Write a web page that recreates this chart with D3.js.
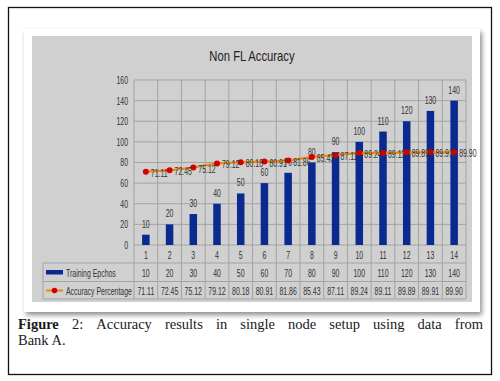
<!DOCTYPE html>
<html>
<head>
<meta charset="utf-8">
<script src="https://cdn.jsdelivr.net/npm/d3@7"></script>
<style>
  body { margin: 0; background: #fff; }
  svg { display: block; }
</style>
</head>
<body>
<script>
// chart data
var categories = ["1","2","3","4","5","6","7","8","9","10","11","12","13","14"];
var epochs = [10, 20, 30, 40, 50, 60, 70, 80, 90, 100, 110, 120, 130, 140];
var accuracy = [71.11, 72.45, 75.12, 79.12, 80.18, 80.91, 81.86, 85.43, 87.11, 89.24, 89.11, 89.89, 89.91, 89.90];
var yTicks = [0, 20, 40, 60, 80, 100, 120, 140, 160];
var seriesNames = ["Training Epchos", "Accuracy Percentage"];

var narrow = "'Liberation Sans Narrow', 'Arial Narrow', 'Liberation Sans', Arial, sans-serif";

// squeeze text horizontally, the chart uses a narrow face
function condense(sel, k) {
  sel.each(function() {
    var w = this.getComputedTextLength();
    d3.select(this).attr("textLength", w * k).attr("lengthAdjust", "spacingAndGlyphs");
  });
}

var svg = d3.select("body").append("svg")
    .attr("width", 500)
    .attr("height", 381);

var defs = svg.append("defs");
var f = defs.append("filter").attr("id", "shadow")
    .attr("x", "-5%").attr("y", "-5%").attr("width", "112%").attr("height", "115%");
f.append("feGaussianBlur").attr("in", "SourceAlpha").attr("stdDeviation", 2.5);
f.append("feOffset").attr("dx", 2).attr("dy", 3).attr("result", "b");
f.append("feComponentTransfer").append("feFuncA").attr("type", "linear").attr("slope", 0.45);
var m = f.append("feMerge");
m.append("feMergeNode");
m.append("feMergeNode").attr("in", "SourceGraphic");

// outer frame
svg.append("rect")
    .attr("x", 8.5).attr("y", 7.5).attr("width", 483).attr("height", 367)
    .attr("fill", "#fff").attr("stroke", "#111").attr("stroke-width", 1.3);

// white card + grey chart area
svg.append("rect")
    .attr("x", 24).attr("y", 29).attr("width", 456).attr("height", 283)
    .attr("fill", "#fff").attr("filter", "url(#shadow)");
svg.append("rect")
    .attr("x", 32).attr("y", 36).attr("width", 440).attr("height", 266)
    .attr("fill", "#d0d0d0");

var title = svg.append("text")
    .attr("x", 252).attr("y", 61)
    .attr("text-anchor", "middle")
    .attr("font-family", narrow)
    .attr("font-size", 15)
    .attr("fill", "#222")
    .text("Non FL Accuracy");
condense(title, 0.75);

var plotL = 134, plotR = 466, plotT = 80, plotB = 245;

var x = d3.scaleBand().domain(categories).range([plotL, plotR]);
var y = d3.scaleLinear().domain([0, 160]).range([plotB, plotT]);

var grid = "#a3a3a3";
var g = svg.append("g");

// horizontal grid
g.selectAll(".hg").data(yTicks).enter().append("line")
    .attr("x1", plotL).attr("x2", plotR)
    .attr("y1", function(d) { return y(d); })
    .attr("y2", function(d) { return y(d); })
    .attr("stroke", grid).attr("stroke-width", 1);

// table geometry
var rowTop = [245, 263, 281.5, 299];
var legLeft = 43;

// vertical grid through plot and table
var xs = categories.map(function(c) { return x(c); }).concat([plotR]);
g.selectAll(".vg").data(xs).enter().append("line")
    .attr("x1", function(d) { return d; }).attr("x2", function(d) { return d; })
    .attr("y1", plotT).attr("y2", rowTop[3])
    .attr("stroke", grid);

// table row lines
g.selectAll(".tr").data([rowTop[1], rowTop[2], rowTop[3]]).enter().append("line")
    .attr("x1", legLeft).attr("x2", plotR)
    .attr("y1", function(d) { return d; }).attr("y2", function(d) { return d; })
    .attr("stroke", grid);
g.append("line")
    .attr("x1", legLeft).attr("x2", legLeft)
    .attr("y1", rowTop[1]).attr("y2", rowTop[3])
    .attr("stroke", grid);

var fs = 10.5, kk = 0.66;

// y axis labels
var yAxis = d3.axisLeft(y).tickValues(yTicks).tickSize(0).tickPadding(6);
var ya = svg.append("g").attr("transform", "translate(" + plotL + ",0)").call(yAxis);
ya.select(".domain").remove();
ya.selectAll("text").attr("font-family", narrow).attr("font-size", fs).attr("fill", "#333");
condense(ya.selectAll("text"), kk);

// bars
var bw = 7.5;
svg.selectAll(".bar").data(epochs).enter().append("rect")
    .attr("x", function(d, i) { return x(categories[i]) + x.bandwidth() / 2 - bw / 2; })
    .attr("y", function(d) { return y(d); })
    .attr("width", bw)
    .attr("height", function(d) { return plotB - y(d); })
    .attr("fill", "#0b2a8f");

var blab = svg.selectAll(".blab").data(epochs).enter().append("text")
    .attr("x", function(d, i) { return x(categories[i]) + x.bandwidth() / 2; })
    .attr("y", function(d) { return y(d) - 7; })
    .attr("text-anchor", "middle")
    .attr("font-family", narrow).attr("font-size", fs).attr("fill", "#333")
    .text(function(d) { return d; });
condense(blab, kk);

// accuracy line
var line = d3.line()
    .x(function(d, i) { return x(categories[i]) + x.bandwidth() / 2; })
    .y(function(d) { return y(d); });
svg.append("path").datum(accuracy)
    .attr("d", line)
    .attr("fill", "none").attr("stroke", "#e8881c").attr("stroke-width", 2.2);

svg.selectAll(".pt").data(accuracy).enter().append("circle")
    .attr("cx", function(d, i) { return x(categories[i]) + x.bandwidth() / 2; })
    .attr("cy", function(d) { return y(d); })
    .attr("r", 3)
    .attr("fill", "#d40000");

var alab = svg.selectAll(".alab").data(accuracy).enter().append("text")
    .attr("x", function(d, i) { return x(categories[i]) + x.bandwidth() / 2 + 5; })
    .attr("y", function(d) { return y(d) + 5; })
    .attr("font-family", narrow).attr("font-size", fs).attr("fill", "#333")
    .text(function(d) { return d.toFixed(2); });
condense(alab, kk);

// table text
var tcx = function(i) { return x(categories[i]) + x.bandwidth() / 2; };
var cat = svg.selectAll(".cat").data(categories).enter().append("text")
    .attr("x", function(d, i) { return tcx(i); })
    .attr("y", 258.5)
    .attr("text-anchor", "middle")
    .attr("font-family", narrow).attr("font-size", fs).attr("fill", "#333")
    .text(function(d) { return d; });
condense(cat, kk);

var ep = svg.selectAll(".ep").data(epochs).enter().append("text")
    .attr("x", function(d, i) { return tcx(i); })
    .attr("y", 276.5)
    .attr("text-anchor", "middle")
    .attr("font-family", narrow).attr("font-size", fs).attr("fill", "#333")
    .text(function(d) { return d; });
condense(ep, kk);

var ac = svg.selectAll(".ac").data(accuracy).enter().append("text")
    .attr("x", function(d, i) { return tcx(i); })
    .attr("y", 294.5)
    .attr("text-anchor", "middle")
    .attr("font-family", narrow).attr("font-size", fs).attr("fill", "#333")
    .text(function(d) { return d.toFixed(2); });
condense(ac, kk);

// legend keys in table
svg.append("rect")
    .attr("x", 46).attr("y", 270).attr("width", 17).attr("height", 4.5)
    .attr("fill", "#0b2a8f");
svg.append("line")
    .attr("x1", 46).attr("x2", 63).attr("y1", 290.5).attr("y2", 290.5)
    .attr("stroke", "#e8881c").attr("stroke-width", 2);
svg.append("circle").attr("cx", 54.5).attr("cy", 290.5).attr("r", 2.8).attr("fill", "#d40000");

var leg = svg.selectAll(".leg").data(seriesNames).enter().append("text")
    .attr("x", 66)
    .attr("y", function(d, i) { return i === 0 ? 276.5 : 294.5; })
    .attr("font-family", narrow).attr("font-size", fs).attr("fill", "#333")
    .text(function(d) { return d; });
condense(leg, kk);

// caption, justified first line
var serif = "'Liberation Serif', 'Times New Roman', serif";
var capWords = [
  { t: "Figure", b: true }, { t: "2:", b: false }, { t: "Accuracy", b: false },
  { t: "results", b: false }, { t: "in", b: false }, { t: "single", b: false },
  { t: "node", b: false }, { t: "setup", b: false }, { t: "using", b: false },
  { t: "data", b: false }, { t: "from", b: false }
];
var capLeft = 18, capRight = 483;
var cw = svg.selectAll(".cw").data(capWords).enter().append("text")
    .attr("y", 329)
    .attr("font-family", serif).attr("font-size", 14.5)
    .attr("font-weight", function(d) { return d.b ? "bold" : "normal"; })
    .attr("fill", "#1a1a1a")
    .text(function(d) { return d.t; });
var widths = [];
cw.each(function() { widths.push(this.getComputedTextLength()); });
var total = d3.sum(widths);
var gap = (capRight - capLeft - total) / (capWords.length - 1);
var cx = capLeft;
cw.attr("x", function(d, i) { var p = cx; cx += widths[i] + gap; return p; });

svg.append("text")
    .attr("x", capLeft).attr("y", 345)
    .attr("font-family", serif).attr("font-size", 14.5)
    .attr("fill", "#1a1a1a")
    .text("Bank A.");
</script>
</body>
</html>
